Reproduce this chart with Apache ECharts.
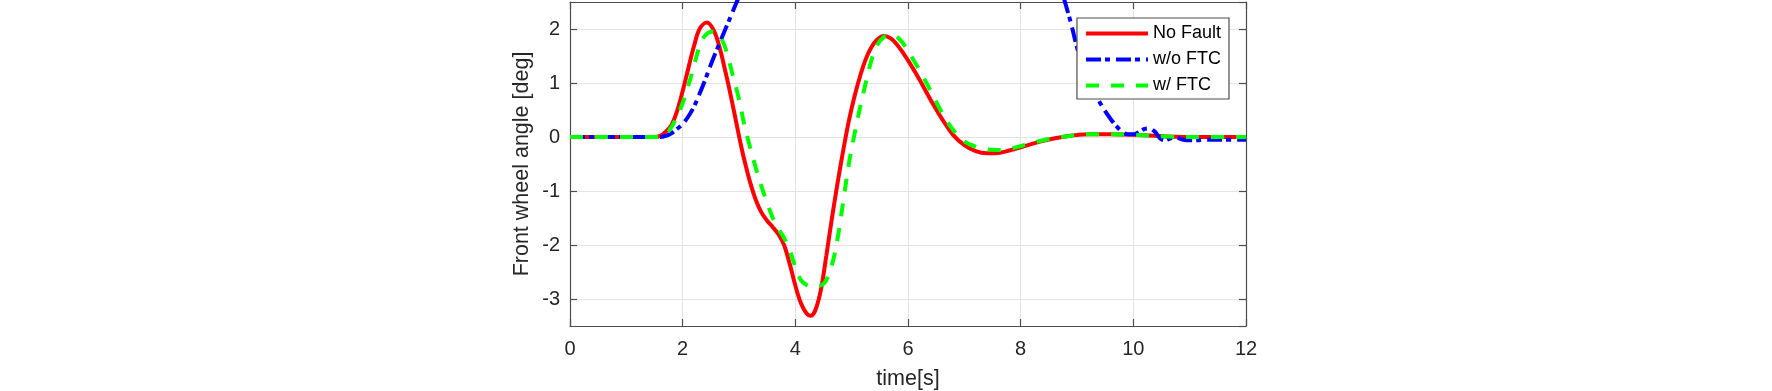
<!DOCTYPE html>
<html>
<head>
<meta charset="utf-8">
<script src="https://cdn.jsdelivr.net/npm/echarts@6/dist/echarts.min.js"></script>
<style>
html,body{margin:0;padding:0;background:#fff;}
#chart{width:1772px;height:391px;}
</style>
</head>
<body>
<div id="chart"></div>
<script>
// ---- data ----
const xTicks = [0, 2, 4, 6, 8, 10, 12];
const yTicks = [-3, -2, -1, 0, 1, 2];
const seriesNames = ['No Fault', 'w/o FTC', 'w/ FTC'];

const noFaultT = [0, 1.5, 1.6, 1.7, 1.8, 1.9, 2.0, 2.1, 2.2, 2.3, 2.43, 2.55, 2.65, 2.75, 2.82, 2.93, 3.02, 3.1, 3.2, 3.3, 3.4, 3.5, 3.6, 3.7, 3.8, 3.9, 4.0, 4.1, 4.2, 4.27, 4.35, 4.45, 4.55, 4.65, 4.75, 4.85, 4.95, 5.05, 5.15, 5.25, 5.35, 5.45, 5.57, 5.7, 5.85, 6.0, 6.15, 6.3, 6.45, 6.6, 6.8, 7.0, 7.2, 7.4, 7.55, 7.8, 8.1, 8.4, 8.8, 9.2, 9.6, 10, 10.6, 11.2, 12];
const noFaultV = [0, 0, 0.02, 0.1, 0.22, 0.48, 0.85, 1.27, 1.68, 2.0, 2.12, 1.98, 1.68, 1.25, 0.93, 0.38, -0.08, -0.45, -0.85, -1.17, -1.4, -1.55, -1.67, -1.8, -2.0, -2.35, -2.75, -3.08, -3.27, -3.31, -3.22, -2.85, -2.2, -1.5, -0.85, -0.25, 0.3, 0.75, 1.13, 1.44, 1.66, 1.8, 1.87, 1.82, 1.65, 1.42, 1.16, 0.88, 0.6, 0.34, 0.04, -0.15, -0.26, -0.3, -0.3, -0.25, -0.16, -0.07, 0.01, 0.05, 0.05, 0.04, 0.01, 0, 0];

const woFtcT = [0, 1.6, 1.7, 1.8, 1.9, 2.0, 2.1, 2.2, 2.3, 2.4, 2.5, 2.6, 2.7, 2.8, 2.9, 3.0, 3.2, 3.5, 4.5, 6, 7.5, 8.2, 8.5, 8.7, 8.8, 8.9, 9.0, 9.1, 9.2, 9.3, 9.4, 9.5, 9.6, 9.7, 9.8, 9.9, 10.0, 10.1, 10.2, 10.28, 10.38, 10.48, 10.56, 10.65, 10.75, 10.85, 10.95, 11.1, 11.3, 11.6, 12];
const woFtcV = [0, 0, 0.02, 0.07, 0.15, 0.24, 0.38, 0.56, 0.8, 1.06, 1.34, 1.6, 1.85, 2.1, 2.35, 2.6, 3.1, 3.8, 5.5, 6.8, 5.8, 4.2, 3.4, 2.8, 2.45, 2.08, 1.66, 1.33, 1.06, 0.84, 0.65, 0.48, 0.33, 0.2, 0.1, 0.05, 0.05, 0.09, 0.15, 0.16, 0.1, -0.03, -0.06, -0.03, 0, -0.04, -0.06, -0.06, -0.05, -0.05, -0.05];

const wFtcT = [0, 1.6, 1.7, 1.8, 1.9, 2.0, 2.1, 2.2, 2.3, 2.4, 2.52, 2.62, 2.72, 2.8, 2.9, 3.0, 3.1, 3.2, 3.3, 3.4, 3.5, 3.6, 3.7, 3.8, 3.9, 4.0, 4.1, 4.2, 4.3, 4.42, 4.52, 4.6, 4.68, 4.76, 4.85, 4.95, 5.05, 5.15, 5.25, 5.35, 5.45, 5.57, 5.7, 5.82, 5.95, 6.1, 6.25, 6.4, 6.55, 6.7, 6.85, 7.0, 7.2, 7.4, 7.6, 7.8, 8.1, 8.4, 8.8, 9.2, 9.6, 10, 10.6, 11.2, 12];
const wFtcV = [0, 0, 0.05, 0.18, 0.38, 0.63, 0.95, 1.32, 1.68, 1.88, 1.95, 1.92, 1.75, 1.5, 1.1, 0.7, 0.2, -0.2, -0.58, -0.92, -1.22, -1.5, -1.7, -1.87, -2.1, -2.4, -2.65, -2.74, -2.77, -2.76, -2.7, -2.52, -2.25, -1.82, -1.2, -0.5, 0.05, 0.55, 1.0, 1.42, 1.7, 1.85, 1.9, 1.84, 1.68, 1.42, 1.15, 0.86, 0.55, 0.28, 0.07, -0.08, -0.18, -0.23, -0.24, -0.22, -0.14, -0.06, 0.01, 0.05, 0.05, 0.04, 0.01, 0, 0];

const xMin = 0, xMax = 12, yMin = -3.5, yMax = 2.5;

// ---- chart ----
const pairs = (t, v) => t.map((x, i) => [x, v[i]]);
const AX = '#4d4d4d';
const TXT = '#262626';
const FONT = '"Liberation Sans", Arial, Helvetica, sans-serif';

const chart = echarts.init(document.getElementById('chart'), null, {renderer: 'canvas'});
const yLabelFmt = v => (yTicks.indexOf(Math.round(v * 1000) / 1000) >= 0 ? String(v) : '');
const xLabelFmt = v => (xTicks.indexOf(v) >= 0 ? String(v) : '');

chart.setOption({
  animation: false,
  backgroundColor: '#ffffff',
  grid: {left: 570, right: 526, top: 2, bottom: 65, show: false, containLabel: false, outerBoundsMode: 'none'},
  legend: {
    orient: 'vertical',
    right: 543,
    top: 18,
    data: seriesNames,
    itemWidth: 62,
    itemHeight: 14,
    itemGap: 8,
    padding: [6.5, 8, 4.5, 7],
    borderColor: '#4d4d4d',
    borderWidth: 1.2,
    borderRadius: 0,
    backgroundColor: '#ffffff',
    itemStyle: {opacity: 0},
    lineStyle: {width: 4},
    textStyle: {fontFamily: FONT, fontSize: 18, color: '#000'},
    selectedMode: false
  },
  xAxis: [{
    type: 'value', min: xMin, max: xMax, interval: 2, position: 'bottom',
    name: 'time[s]', nameLocation: 'middle', nameGap: 42,
    nameTextStyle: {fontFamily: FONT, fontSize: 21.5, color: TXT},
    axisLine: {show: true, onZero: false, lineStyle: {color: AX, width: 1.2}},
    axisTick: {show: true, inside: true, length: 7, lineStyle: {color: AX, width: 1.2}},
    axisLabel: {fontFamily: FONT, fontSize: 20, color: TXT, margin: 13, formatter: xLabelFmt},
    splitLine: {show: true, lineStyle: {color: '#e3e3e3', width: 1}}
  }, {
    type: 'value', min: xMin, max: xMax, interval: 2, position: 'top',
    axisLine: {show: true, onZero: false, lineStyle: {color: AX, width: 1.2}},
    axisTick: {show: true, inside: true, length: 7, lineStyle: {color: AX, width: 1.2}},
    axisLabel: {show: false},
    splitLine: {show: false}
  }],
  yAxis: [{
    type: 'value', min: yMin, max: yMax, splitNumber: 6, position: 'left',
    name: 'Front wheel angle [deg]', nameLocation: 'middle', nameGap: 37, nameRotate: 90,
    nameTextStyle: {fontFamily: FONT, fontSize: 21.5, color: TXT},
    axisLine: {show: true, onZero: false, lineStyle: {color: AX, width: 1.2}},
    axisTick: {show: true, inside: true, length: 7, lineStyle: {color: AX, width: 1.2}},
    axisLabel: {fontFamily: FONT, fontSize: 20, color: TXT, margin: 10, formatter: yLabelFmt, showMinLabel: false, showMaxLabel: false},
    splitLine: {show: true, lineStyle: {color: '#e3e3e3', width: 1}}
  }, {
    type: 'value', min: yMin, max: yMax, splitNumber: 6, position: 'right',
    axisLine: {show: true, onZero: false, lineStyle: {color: AX, width: 1.2}},
    axisTick: {show: true, inside: true, length: 7, lineStyle: {color: AX, width: 1.2}},
    axisLabel: {show: false},
    splitLine: {show: false}
  }],
  series: [{
    name: seriesNames[0], type: 'line', xAxisIndex: 0, yAxisIndex: 0,
    data: pairs(noFaultT, noFaultV), showSymbol: false, symbol: 'none', smooth: 0.35, clip: true,
    lineStyle: {color: '#ff0000', width: 4, type: 'solid'},
    itemStyle: {color: '#ff0000'}, z: 2
  }, {
    name: seriesNames[1], type: 'line', xAxisIndex: 0, yAxisIndex: 0,
    data: pairs(woFtcT, woFtcV), showSymbol: false, symbol: 'none', smooth: 0.35, clip: true,
    lineStyle: {color: '#0000ff', width: 4, type: [15, 4, 5, 6]},
    itemStyle: {color: '#0000ff'}, z: 3
  }, {
    name: seriesNames[2], type: 'line', xAxisIndex: 0, yAxisIndex: 0,
    data: pairs(wFtcT, wFtcV), showSymbol: false, symbol: 'none', smooth: 0.35, clip: true,
    lineStyle: {color: '#00ff00', width: 4, type: [13, 12]},
    itemStyle: {color: '#00ff00'}, z: 4
  }]
});
</script>
</body>
</html>
